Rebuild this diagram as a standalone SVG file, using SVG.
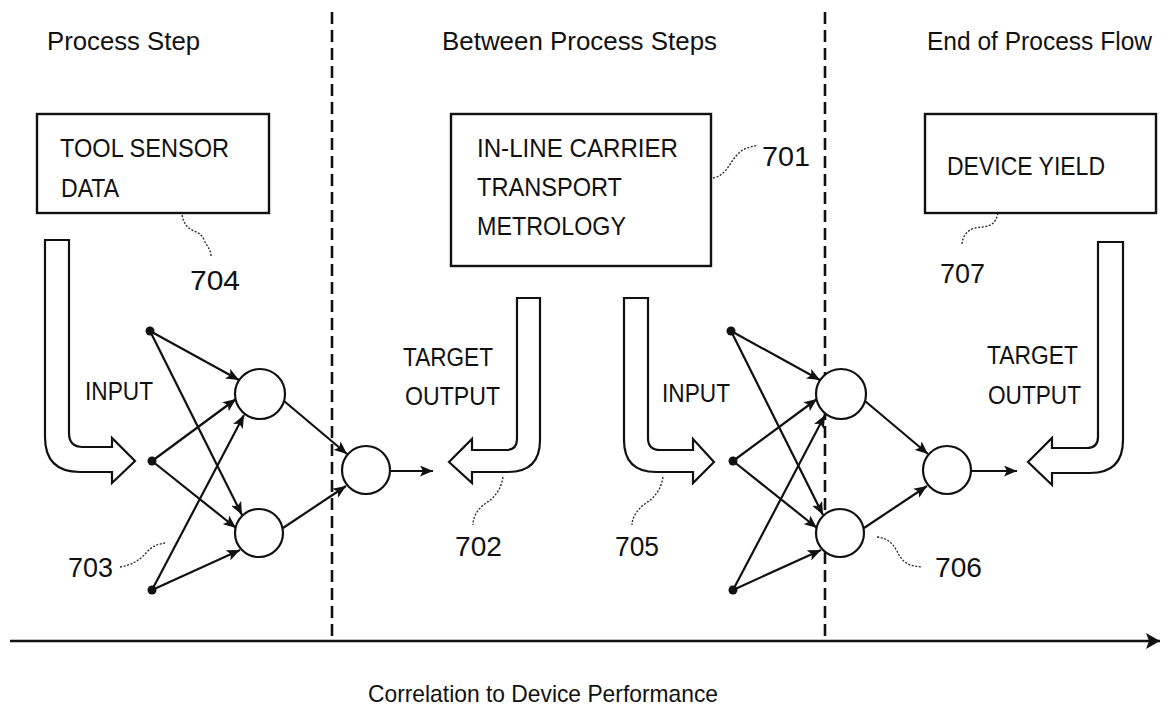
<svg xmlns="http://www.w3.org/2000/svg" width="1168" height="713" viewBox="0 0 1168 713">
<style>
text{font-family:"Liberation Sans",Arial,sans-serif;fill:#111}
.hdr{font-size:26px}
.box{fill:#fff;stroke:#111;stroke-width:2.4}
.bt{font-size:26px}
.lbl{font-size:25px}
.ax{font-size:24px}
.num{font-size:28px}
.bent{fill:#fff;stroke:#111;stroke-width:2.2}
.neuron{fill:#fff;stroke:#111;stroke-width:2.2}
.dot{fill:#111}
.edge{stroke:#111;stroke-width:2.2;fill:none;marker-end:url(#ah)}
.lead{stroke:#222;stroke-width:1.3;fill:none;stroke-dasharray:2 1.6}
.sep{stroke:#111;stroke-width:2.6;stroke-dasharray:12 6}
</style>
<defs>
<marker id="ah" markerUnits="userSpaceOnUse" viewBox="0 0 13 11" markerWidth="13" markerHeight="11" refX="13" refY="5.5" orient="auto">
<path d="M0,0 L13,5.5 L0,11 L3,5.5 z" fill="#111"/>
</marker>
<marker id="axh" markerUnits="userSpaceOnUse" viewBox="0 0 14 16" markerWidth="14" markerHeight="16" refX="14" refY="8" orient="auto">
<path d="M0,0 L14,8 L0,16 L3,8 z" fill="#111"/>
</marker>
</defs>
<rect width="1168" height="713" fill="#fff"/>

<g id="headers">
<text class="hdr" x="47" y="50" textLength="153" lengthAdjust="spacingAndGlyphs">Process Step</text>
<text class="hdr" x="442" y="50" textLength="275" lengthAdjust="spacingAndGlyphs">Between Process Steps</text>
<text class="hdr" x="927" y="50" textLength="225" lengthAdjust="spacingAndGlyphs">End of Process Flow</text>
</g>

<g id="separators">
<line class="sep" x1="332" y1="12" x2="332" y2="641"/>
<line class="sep" x1="825" y1="12" x2="825" y2="641"/>
</g>

<g id="node-704">
<rect class="box" x="37" y="114" width="232" height="99"/>
<text class="bt" x="60" y="157" textLength="169" lengthAdjust="spacingAndGlyphs">TOOL SENSOR</text>
<text class="bt" x="61" y="197" textLength="58" lengthAdjust="spacingAndGlyphs">DATA</text>
</g>
<g id="node-701">
<rect class="box" x="451" y="114" width="260" height="152"/>
<text class="bt" x="477" y="157" textLength="201" lengthAdjust="spacingAndGlyphs">IN-LINE CARRIER</text>
<text class="bt" x="477" y="196" textLength="145" lengthAdjust="spacingAndGlyphs">TRANSPORT</text>
<text class="bt" x="477" y="235" textLength="149" lengthAdjust="spacingAndGlyphs">METROLOGY</text>
</g>
<g id="node-707">
<rect class="box" x="925" y="114" width="231" height="99"/>
<text class="bt" x="947" y="175" textLength="158" lengthAdjust="spacingAndGlyphs">DEVICE YIELD</text>
</g>

<g id="arrow-input-1">
<path class="bent" d="M45,240 L69,240 L69,433 Q69,447 83,447 L112,447 L112,438 L135,461 L112,483 L112,472 L80,472 Q45,472 45,437 Z"/>
<text class="lbl" x="85" y="400" textLength="68" lengthAdjust="spacingAndGlyphs">INPUT</text>
</g>
<g id="arrow-702">
<path class="bent" d="M517,298 L540,298 L540,440 Q540,472 508,472 L472,472 L472,483 L449,462 L472,439 L472,450 L506,450 Q517,450 517,439 Z"/>
<text class="lbl" x="403" y="366" textLength="90" lengthAdjust="spacingAndGlyphs">TARGET</text>
<text class="lbl" x="405" y="405" textLength="95" lengthAdjust="spacingAndGlyphs">OUTPUT</text>
</g>
<g id="arrow-705">
<path class="bent" d="M624,298 L648,298 L648,438 Q648,450 660,450 L693,450 L693,439 L714,462 L693,483 L693,472 L656,472 Q624,472 624,440 Z"/>
<text class="lbl" x="662" y="402" textLength="68" lengthAdjust="spacingAndGlyphs">INPUT</text>
</g>
<g id="arrow-target-2">
<path class="bent" d="M1098,242 L1123,242 L1123,440 Q1123,473 1090,473 L1052,473 L1052,485 L1028,462 L1052,438 L1052,448 L1087,448 Q1098,448 1098,437 Z"/>
<text class="lbl" x="987" y="364" textLength="91" lengthAdjust="spacingAndGlyphs">TARGET</text>
<text class="lbl" x="988" y="404" textLength="93" lengthAdjust="spacingAndGlyphs">OUTPUT</text>
</g>

<g id="connectors">
<line class="edge" x1="150" y1="331" x2="239" y2="380"/>
<line class="edge" x1="152" y1="461" x2="236" y2="399"/>
<line class="edge" x1="152" y1="590" x2="244" y2="415"/>
<line class="edge" x1="150" y1="331" x2="242" y2="515"/>
<line class="edge" x1="152" y1="461" x2="236" y2="528"/>
<line class="edge" x1="152" y1="590" x2="240" y2="550"/>
<line class="edge" x1="284" y1="401" x2="347" y2="454"/>
<line class="edge" x1="283" y1="528" x2="346" y2="486"/>
<line class="edge" x1="390" y1="471" x2="433" y2="471"/>
<line class="edge" x1="731" y1="331" x2="820" y2="380"/>
<line class="edge" x1="733" y1="461" x2="817" y2="399"/>
<line class="edge" x1="733" y1="590" x2="825" y2="415"/>
<line class="edge" x1="731" y1="331" x2="823" y2="515"/>
<line class="edge" x1="733" y1="461" x2="817" y2="528"/>
<line class="edge" x1="733" y1="590" x2="821" y2="550"/>
<line class="edge" x1="865" y1="401" x2="928" y2="454"/>
<line class="edge" x1="864" y1="528" x2="927" y2="486"/>
<line class="edge" x1="971" y1="471" x2="1017" y2="471"/>
<line x1="10" y1="641" x2="1160" y2="641" stroke="#111" stroke-width="2.6" marker-end="url(#axh)"/>
</g>

<g id="net1-in1"><circle class="dot" cx="150" cy="331" r="4.5"/></g>
<g id="net1-in2"><circle class="dot" cx="152" cy="461" r="4.5"/></g>
<g id="net1-in3"><circle class="dot" cx="152" cy="590" r="4.5"/></g>
<g id="net1-h1"><circle class="neuron" cx="260" cy="394" r="25"/></g>
<g id="net1-h2"><circle class="neuron" cx="259" cy="533" r="24"/></g>
<g id="net1-out"><circle class="neuron" cx="366" cy="470" r="24"/></g>

<g id="net2-in1"><circle class="dot" cx="731" cy="331" r="4.5"/></g>
<g id="net2-in2"><circle class="dot" cx="733" cy="461" r="4.5"/></g>
<g id="net2-in3"><circle class="dot" cx="733" cy="590" r="4.5"/></g>
<g id="net2-h1"><circle class="neuron" cx="841" cy="394" r="25"/></g>
<g id="net2-h2"><circle class="neuron" cx="840" cy="533" r="24"/></g>
<g id="net2-out"><circle class="neuron" cx="947" cy="470" r="24"/></g>

<g id="ref-labels">
<path class="lead" d="M182,215 C186,235 200,228 204,240 C208,248 211,250 211,256"/>
<text class="num" x="190" y="290" textLength="50" lengthAdjust="spacingAndGlyphs">704</text>
<path class="lead" d="M713,178 C728,175 730,160 740,152 C746,147 752,147 758,145"/>
<text class="num" x="762" y="166" textLength="48" lengthAdjust="spacingAndGlyphs">701</text>
<path class="lead" d="M998,213 C994,232 980,224 970,230 C964,234 962,240 962,245"/>
<text class="num" x="940" y="283" textLength="45" lengthAdjust="spacingAndGlyphs">707</text>
<path class="lead" d="M503,477 C500,495 490,500 482,506 C476,512 473,518 473,525"/>
<text class="num" x="455" y="556" textLength="47" lengthAdjust="spacingAndGlyphs">702</text>
<path class="lead" d="M663,477 C660,495 650,500 642,506 C636,512 632,518 632,525"/>
<text class="num" x="615" y="556" textLength="44" lengthAdjust="spacingAndGlyphs">705</text>
<path class="lead" d="M120,567 C132,565 140,560 146,553 C152,546 158,544 165,543"/>
<text class="num" x="68" y="577" textLength="45" lengthAdjust="spacingAndGlyphs">703</text>
<path class="lead" d="M877,537 C890,538 895,547 899,555 C905,565 912,566 922,567"/>
<text class="num" x="935" y="577" textLength="47" lengthAdjust="spacingAndGlyphs">706</text>
</g>

<g id="axis-label">
<text class="ax" x="368" y="702" textLength="350" lengthAdjust="spacingAndGlyphs">Correlation to Device Performance</text>
</g>
</svg>
